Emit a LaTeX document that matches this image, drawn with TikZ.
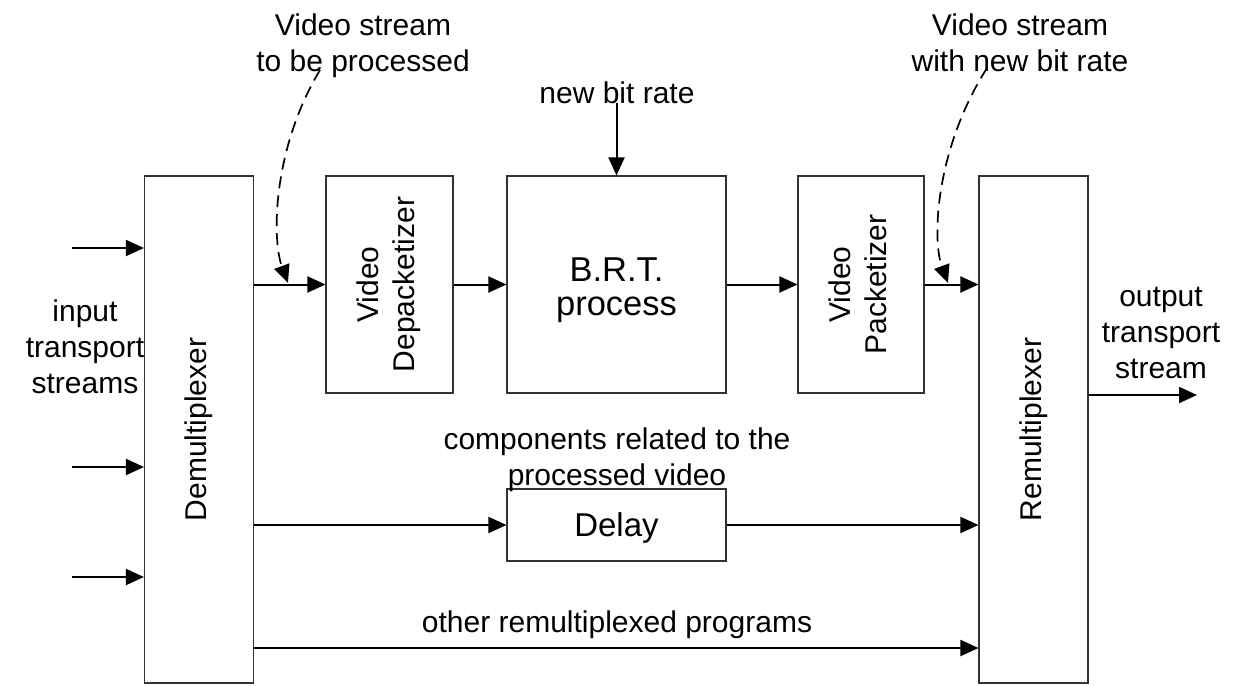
\documentclass[tikz,border=0pt]{standalone}
\usepackage{fontspec}
\setmainfont{Liberation Sans}
\usetikzlibrary{arrows.meta}
\begin{document}
\begin{tikzpicture}[x=1pt,y=-1pt,
  box/.style={draw=black!80, line width=1.1pt, inner sep=0pt, align=center, font=\fontsize{30}{36}\selectfont},
  bigbox/.style={box, font=\fontsize{33}{35}\selectfont},
  lbl/.style={inner sep=0pt, align=center, font=\fontsize{30}{36}\selectfont},
  tip/.style={-{Triangle[length=18pt,width=16pt]}},
  arr/.style={line width=2pt, tip},
  dsh/.style={line width=1.7pt, dash pattern=on 12pt off 7pt, tip}]
\useasboundingbox (0,0) rectangle (1233,685);

% boxes
\node[box, minimum width=109pt, minimum height=507pt] (demux) at (199,429.5) {\rotatebox{90}{Demultiplexer}};
\node[box, minimum width=109pt, minimum height=507pt] (remux) at (1033.5,429.5) {\rotatebox{90}{Remultiplexer}};
\node[box, minimum width=127pt, minimum height=217pt] (depack) at (389.5,284.5) {\rotatebox{90}{\begin{tabular}{@{}c@{}}Video\\Depacketizer\end{tabular}}};
\node[bigbox, font=\fontsize{34.5}{35}\selectfont, minimum width=219pt, minimum height=217pt] (brt) at (616.5,284.5) {\raisebox{-7pt}[\height][\depth]{\begin{tabular}{@{}c@{}}B.R.T.\\[-1pt]process\end{tabular}}};
\node[box, minimum width=126pt, minimum height=217pt] (pack) at (861,284.5) {\rotatebox{90}{\begin{tabular}{@{}c@{}}Video\\Packetizer\end{tabular}}};
\node[bigbox, minimum width=219pt, minimum height=72pt, text depth=0pt] (delay) at (616.5,525) {Delay};

% labels
\node[lbl, anchor=north] (vs1) at (363,14) {Video stream\\to be processed};
\node[lbl, anchor=north] (vs2) at (1020,14) {Video stream\\with new bit rate};
\node[lbl, anchor=base] (nbr) at (617,103) {new bit rate};
\node[lbl, anchor=north] (inp) at (85,300) {input\\transport\\streams};
\node[lbl, anchor=north] (outp) at (1161,287) {output\\transport\\stream};
\node[lbl, anchor=north] (comp) at (617,428) {components related to the\\processed video};
\node[lbl, anchor=base] (oth) at (617,632) {other remultiplexed programs};

% free ends
\coordinate (in1) at (72,248);
\coordinate (in2) at (72,467);
\coordinate (in3) at (72,577);
\coordinate (out) at (1197,395);
\coordinate (othy) at (617,648);
\coordinate (d1s) at (320,70);
\coordinate (d1e) at (288,283);
\coordinate (d2s) at (987,68);
\coordinate (d2e) at (948,283);

% connectors
\draw[arr] (in1) -- (demux.west |- in1);
\draw[arr] (in2) -- (demux.west |- in2);
\draw[arr] (in3) -- (demux.west |- in3);
\draw[arr] (demux.east |- depack.west) -- (depack.west);
\draw[arr] (depack.east) -- (brt.west);
\draw[arr] (brt.east) -- (pack.west);
\draw[arr] (pack.east) -- (remux.west |- pack.east);
\draw[arr] (nbr.south -| brt.north) -- (brt.north);
\draw[arr] (demux.east |- delay.west) -- (delay.west);
\draw[arr] (delay.east) -- (remux.west |- delay.east);
\draw[arr] (demux.east |- othy) -- (remux.west |- othy);
\draw[arr] (remux.east |- out) -- (out);
\draw[dsh] (d1s) .. controls (272,150) and (272,240) .. (d1e);
\draw[dsh] (d2s) .. controls (935,150) and (932,240) .. (d2e);
\end{tikzpicture}
\end{document}
